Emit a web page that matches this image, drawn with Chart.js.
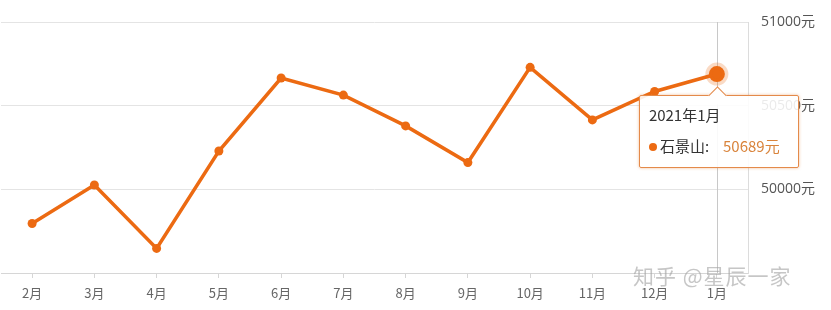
<!DOCTYPE html>
<html>
<head>
<meta charset="utf-8">
<script src="https://cdn.jsdelivr.net/npm/chart.js@4/dist/chart.umd.min.js"></script>
<style>
  html, body { margin: 0; padding: 0; background: #fff; }
  #wrap { position: relative; width: 831px; height: 310px; }
  #tip {
    position: absolute; display: none; box-sizing: border-box;
    width: 160px; height: 73px; padding: 8px 0 0 9px;
    background: rgba(255,255,255,0.88); border: 1px solid #e48a4a; border-radius: 2px;
    box-shadow: 0 0 3px rgba(230,120,40,0.5);
    font-family: "Noto Sans CJK SC", "Open Sans", sans-serif; color: #333; font-size: 15px;
  }
  #tip .t { line-height: 21px; }
  #tip .row { margin-top: 10px; line-height: 21px; white-space: nowrap; }
  #tip .dot { display: inline-block; width: 8px; height: 8px; border-radius: 50%; background: #ec6a12; margin: 0 3px 1px 0; }
  #tip .v { color: #d9843c; margin-left: 14px; }
  #tip .arrow { position: absolute; top: -7px; width: 12px; height: 12px; background: #fff;
    border-left: 1px solid #e48a4a; border-top: 1px solid #e48a4a; transform: rotate(45deg); }
  #mark { position: absolute; left: 633px; top: 260px; font: 21px "Noto Sans CJK SC", sans-serif;
    color: rgba(160,160,160,0.6); letter-spacing: 1px; }
</style>
</head>
<body>
<div id="wrap">
  <canvas id="c" width="831" height="310"></canvas>
  <div id="tip"></div>
  <div id="mark">知乎 @星辰一家</div>
</div>
<script>
const months = ['2月','3月','4月','5月','6月','7月','8月','9月','10月','11月','12月','1月'];
const fullMonths = ['2020年2月','2020年3月','2020年4月','2020年5月','2020年6月','2020年7月','2020年8月','2020年9月','2020年10月','2020年11月','2020年12月','2021年1月'];
const prices = [49796, 50026, 49647, 50229, 50665, 50563, 50379, 50160, 50729, 50415, 50585, 50689];
const seriesName = '石景山';
const yTicks = [49500, 50000, 50500, 51000];

const orange = '#ec6a12';

// vertical pointer line under the active point
const pointerLine = {
  id: 'pointerLine',
  beforeDatasetsDraw(chart) {
    const act = chart.getActiveElements();
    if (!act.length) return;
    const x = act[0].element.x;
    const ctx = chart.ctx;
    ctx.save();
    ctx.strokeStyle = '#c8c8c8';
    ctx.lineWidth = 1;
    ctx.beginPath();
    ctx.moveTo(Math.round(x) + 0.5, chart.chartArea.top);
    ctx.lineTo(Math.round(x) + 0.5, chart.chartArea.bottom);
    ctx.stroke();
    ctx.restore();
  }
};

function externalTip(context) {
  const tip = document.getElementById('tip');
  const t = context.tooltip;
  if (t.opacity === 0 || !t.dataPoints || !t.dataPoints.length) { tip.style.display = 'none'; return; }
  const dp = t.dataPoints[0];
  tip.innerHTML = '<div class="arrow"></div><div class="t">' + fullMonths[dp.dataIndex] + '</div>' +
    '<div class="row"><span class="dot"></span>' + seriesName + ':<span class="v">' + dp.raw + '元</span></div>';
  const left = t.caretX - 78;
  tip.style.left = left + 'px';
  tip.style.top = (t.caretY + 21) + 'px';
  tip.style.display = 'block';
  tip.querySelector('.arrow').style.left = (t.caretX - left - 7) + 'px';
}

const chart = new Chart(document.getElementById('c'), {
  type: 'line',
  data: {
    labels: months,
    datasets: [{
      label: seriesName,
      data: prices,
      borderColor: orange,
      backgroundColor: orange,
      borderWidth: 3.5,
      pointRadius: 4.5,
      pointBorderWidth: 0,
      pointBackgroundColor: orange,
      pointHoverRadius: 8,
      pointHoverBorderWidth: 7,
      pointHoverBackgroundColor: orange,
      pointHoverBorderColor: 'rgba(236,106,18,0.25)',
      tension: 0
    }]
  },
  options: {
    responsive: false,
    animation: false,
    events: [],
    layout: { autoPadding: false, padding: { left: 1, top: 22, right: 0, bottom: 0 } },
    plugins: {
      legend: { display: false },
      tooltip: { enabled: false, external: externalTip, mode: 'index', intersect: false }
    },
    scales: {
      x: {
        offset: true,
        grid: { drawOnChartArea: false, drawTicks: true, tickLength: 5, color: '#d6d6d6', offset: false },
        border: { color: '#d6d6d6', width: 1 },
        ticks: { color: '#666', font: { size: 13, family: '"Noto Sans CJK SC", sans-serif' }, padding: 7, maxRotation: 0, autoSkip: false },
        afterFit(s) { s.height = 37; s.paddingLeft = 0; s.paddingRight = 0; }
      },
      y: {
        position: 'right',
        min: 49500, max: 51000,
        afterBuildTicks(s) { s.ticks = yTicks.map(v => ({ value: v })); },
        grid: { color: '#e4e4e4', drawTicks: false },
        border: { display: true, color: '#dcdcdc' },
        ticks: {
          color: '#555', padding: 13,
          font: { size: 14, family: '"Open Sans", "Noto Sans CJK SC", sans-serif' },
          callback: v => v === 49500 ? '' : v + '元'
        },
        afterFit(s) { s.width = 83; }
      }
    }
  },
  plugins: [pointerLine]
});

const last = prices.length - 1;
const el = chart.getDatasetMeta(0).data[last];
chart.setActiveElements([{ datasetIndex: 0, index: last }]);
chart.tooltip.setActiveElements([{ datasetIndex: 0, index: last }], { x: el.x, y: el.y });
chart.update();
</script>
</body>
</html>
